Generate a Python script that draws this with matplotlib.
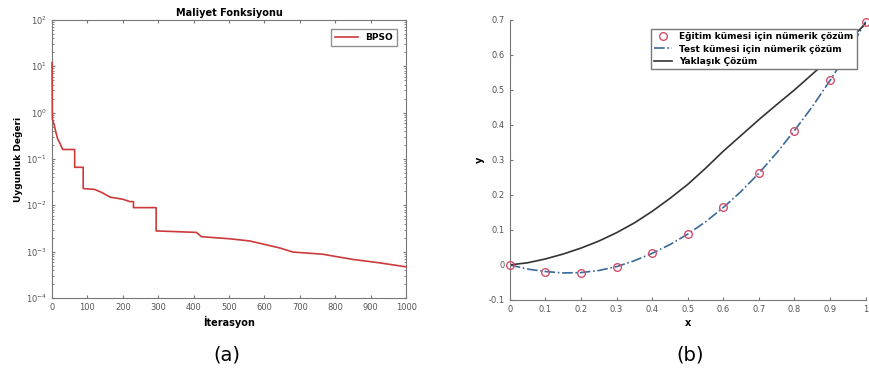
import numpy as np
import matplotlib
matplotlib.use("Agg")
import matplotlib.pyplot as plt

# (a) BPSO cost curve
iters = [0, 0, 1, 6, 10, 16, 22, 30, 64, 64, 88, 88, 120, 140, 164, 200, 220, 230, 230,
         294, 294, 408, 422, 500, 558, 643, 680, 764, 849, 920, 1000]
cost = [12, 12, 0.72, 0.55, 0.4, 0.27, 0.22, 0.16, 0.16, 0.066, 0.066, 0.023, 0.022,
        0.019, 0.015, 0.0135, 0.012, 0.012, 0.0089, 0.0089, 0.0028, 0.0026, 0.0021,
        0.0019, 0.0017, 0.0012, 0.00098, 0.00088, 0.00068, 0.00058, 0.00047]

# (b) numerical and approximate solutions
x_train = [0, 0.1, 0.2, 0.3, 0.4, 0.5, 0.6, 0.7, 0.8, 0.9, 1.0]
y_train = [0, -0.019, -0.022, -0.005, 0.033, 0.088, 0.164, 0.262, 0.384, 0.527, 0.695]
x_test = [0, 0.05, 0.1, 0.15, 0.2, 0.25, 0.3, 0.35, 0.4, 0.45, 0.5,
          0.55, 0.6, 0.65, 0.7, 0.75, 0.8, 0.85, 0.9, 0.95, 1.0]
y_test = [0, -0.012, -0.019, -0.023, -0.022, -0.016, -0.005, 0.012, 0.033, 0.058, 0.088,
          0.123, 0.164, 0.21, 0.262, 0.32, 0.384, 0.452, 0.527, 0.607, 0.695]
x_approx = [0, 0.05, 0.1, 0.15, 0.2, 0.25, 0.3, 0.35, 0.4, 0.45, 0.5,
            0.55, 0.6, 0.65, 0.7, 0.75, 0.8, 0.85, 0.9, 0.95, 1.0]
y_approx = [0, 0.006, 0.017, 0.031, 0.048, 0.068, 0.092, 0.12, 0.153, 0.19, 0.23,
            0.276, 0.325, 0.37, 0.415, 0.458, 0.50, 0.545, 0.59, 0.638, 0.69]

tick_col = "#555555"
fig = plt.figure(figsize=(8.7, 3.83), dpi=100)

# ---- left panel
ax1 = fig.add_axes([0.0598, 0.222, 0.407, 0.726])
ax1.semilogy(iters, cost, color="#cc3a3a", lw=1.2, label="BPSO", clip_on=False, zorder=5)
ax1.set_xlim(0, 1000)
ax1.set_ylim(1e-4, 1e2)
ax1.set_xticks(np.arange(0, 1001, 100))
ax1.set_yticks([1e-4, 1e-3, 1e-2, 1e-1, 1e0, 1e1, 1e2])
ax1.tick_params(which="both", direction="in", top=True, right=True,
                labelsize=6, labelcolor=tick_col, color="#777777", length=2.5)
ax1.tick_params(which="minor", length=1.5)
ax1.set_title("Maliyet Fonksiyonu", fontsize=7, fontweight="bold", pad=3)
ax1.set_xlabel("İterasyon", fontsize=7, fontweight="bold", labelpad=3)
ax1.set_ylabel("Uygunluk Değeri", fontsize=6.5, fontweight="bold", labelpad=2)
for s in ax1.spines.values():
    s.set_color("#777777")
    s.set_linewidth(0.8)
leg = ax1.legend(loc="upper right", bbox_to_anchor=(0.973, 0.968), borderaxespad=0,
                 fontsize=6.5, frameon=True, fancybox=False,
                 handlelength=2.5, borderpad=0.45)
leg.get_frame().set_edgecolor("#777777")
for t in leg.get_texts():
    t.set_fontweight("bold")

# ---- right panel
ax2 = fig.add_axes([0.586, 0.217, 0.409, 0.731])
ax2.plot(x_train, y_train, "o", mfc="none", mec="#d0506a", ms=5.5, mew=1.0,
         label="Eğitim kümesi için nümerik çözüm", clip_on=False, zorder=4)
ax2.plot(x_test, y_test, "-.", color="#3a6a9a", lw=1.2,
         label="Test kümesi için nümerik çözüm")
ax2.plot(x_approx, y_approx, "-", color="#333333", lw=1.2, label="Yaklaşık Çözüm")
ax2.set_xlim(0, 1)
ax2.set_ylim(-0.1, 0.7)
ax2.set_xticks(np.arange(0, 1.01, 0.1))
ax2.set_xticklabels(["0", "0.1", "0.2", "0.3", "0.4", "0.5", "0.6", "0.7", "0.8", "0.9", "1"])
ax2.set_yticks(np.arange(-0.1, 0.71, 0.1))
ax2.set_yticklabels(["-0.1", "0", "0.1", "0.2", "0.3", "0.4", "0.5", "0.6", "0.7"])
ax2.tick_params(direction="in", labelsize=6, labelcolor=tick_col, color="#777777", length=2.5)
ax2.spines["top"].set_visible(False)
ax2.spines["right"].set_visible(False)
for s in ("left", "bottom"):
    ax2.spines[s].set_color("#777777")
    ax2.spines[s].set_linewidth(0.8)
ax2.set_xlabel("x", fontsize=7, fontweight="bold", labelpad=3)
ax2.set_ylabel("y", fontsize=7, fontweight="bold", labelpad=3)
leg2 = ax2.legend(loc="upper right", bbox_to_anchor=(0.975, 0.968), borderaxespad=0,
                  fontsize=6.5, frameon=True, fancybox=False, handlelength=2.0,
                  borderpad=0.35, labelspacing=0.4, handletextpad=0.8)
leg2.get_frame().set_edgecolor("#777777")
leg2.get_frame().set_alpha(1)
leg2.set_zorder(6)
for t in leg2.get_texts():
    t.set_fontweight("bold")

fig.text(0.261, 0.073, "(a)", fontsize=14, ha="center", va="center")
fig.text(0.793, 0.073, "(b)", fontsize=14, ha="center", va="center")

fig.savefig("out.png", dpi=100)
